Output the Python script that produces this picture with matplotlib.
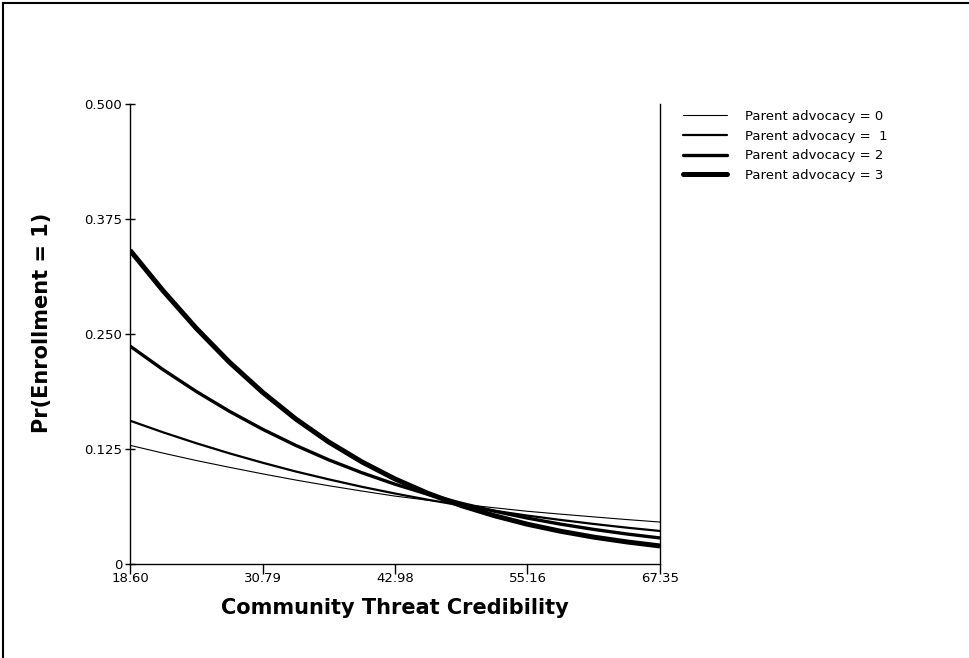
import matplotlib
matplotlib.use("Agg")
import matplotlib.pyplot as plt
from matplotlib.lines import Line2D

plt.rcParams['font.family'] = ['DejaVu Sans']

# Predicted probabilities across community threat credibility
threat = [18.60, 21.65, 24.69, 27.74, 30.79, 33.83, 36.88, 39.93, 42.98,
          46.02, 49.07, 52.12, 55.16, 58.21, 61.26, 64.30, 67.35]
adv0 = [0.1290, 0.1205, 0.1125, 0.1051, 0.0980, 0.0913, 0.0851, 0.0793, 0.0738,
        0.0693, 0.0651, 0.0611, 0.0573, 0.0542, 0.0512, 0.0483, 0.0456]
adv1 = [0.1558, 0.1431, 0.1313, 0.1203, 0.1101, 0.1006, 0.0920, 0.0839, 0.0766,
        0.0698, 0.0636, 0.0579, 0.0526, 0.0479, 0.0435, 0.0395, 0.0359]
adv2 = [0.2369, 0.2112, 0.1876, 0.1660, 0.1465, 0.1290, 0.1132, 0.0992, 0.0867,
        0.0757, 0.0660, 0.0574, 0.0499, 0.0433, 0.0376, 0.0326, 0.0283]
adv3 = [0.3410, 0.2969, 0.2563, 0.2194, 0.1867, 0.1578, 0.1326, 0.1110, 0.0924,
        0.0767, 0.0635, 0.0525, 0.0432, 0.0356, 0.0292, 0.0240, 0.0196]

series = [adv0, adv1, adv2, adv3]
labels = ["Parent advocacy = 0", "Parent advocacy =  1",
          "Parent advocacy = 2", "Parent advocacy = 3"]
widths = [0.8, 1.6, 2.4, 3.6]

x_ticks = [18.60, 30.79, 42.98, 55.16, 67.35]
x_tick_labels = ["18.60", "30.79", "42.98", "55.16", "67.35"]
y_ticks = [0, 0.125, 0.25, 0.375, 0.5]
y_tick_labels = ["0", "0.125", "0.250", "0.375", "0.500"]

W, H = 970, 658
fig = plt.figure(figsize=(W / 100, H / 100), dpi=100)
ax = fig.add_axes([130 / W, 1 - 564 / H, 530 / W, 460 / H])

for vals, lab, lw in zip(series, labels, widths):
    ax.plot(threat, vals, color="black", lw=lw, label=lab,
            solid_capstyle="butt", solid_joinstyle="round")

ax.set_xlim(18.60, 67.35)
ax.set_ylim(0, 0.5)
ax.set_xticks(x_ticks)
ax.set_xticklabels(x_tick_labels)
ax.set_yticks(y_ticks)
ax.set_yticklabels(y_tick_labels)

ax.spines['top'].set_visible(False)
for s in ['left', 'bottom', 'right']:
    ax.spines[s].set_linewidth(1.0)
ax.tick_params(axis='x', direction='out', length=7, width=1.0, pad=-1, labelsize=9.5)
ax.tick_params(axis='y', direction='inout', length=7, width=1.0, pad=2, labelsize=9.5)

ax.set_xlabel("Community Threat Credibility", fontsize=15, fontweight="bold",
              labelpad=9)
ax.set_ylabel("Pr(Enrollment = 1)", fontsize=15, fontweight="bold")
ax.yaxis.set_label_coords(-0.147, 0.525)

leg = ax.legend(loc="upper left", bbox_to_anchor=(683 / W, 1 - 110 / H),
                bbox_transform=fig.transFigure, frameon=False, fontsize=9.5,
                handlelength=3.3, handletextpad=1.4, labelspacing=0.5,
                borderpad=0, borderaxespad=0)
for h in leg.get_lines():
    h.set_solid_capstyle("round")

# Outer frame along the left and top edges
fig.add_artist(Line2D([3 / W, 3 / W], [0, 1 - 3 / H], transform=fig.transFigure,
                      color="black", lw=1.5))
fig.add_artist(Line2D([3 / W, 1], [1 - 3 / H, 1 - 3 / H], transform=fig.transFigure,
                      color="black", lw=1.5))

fig.savefig("out.png", dpi=100, facecolor="white")
